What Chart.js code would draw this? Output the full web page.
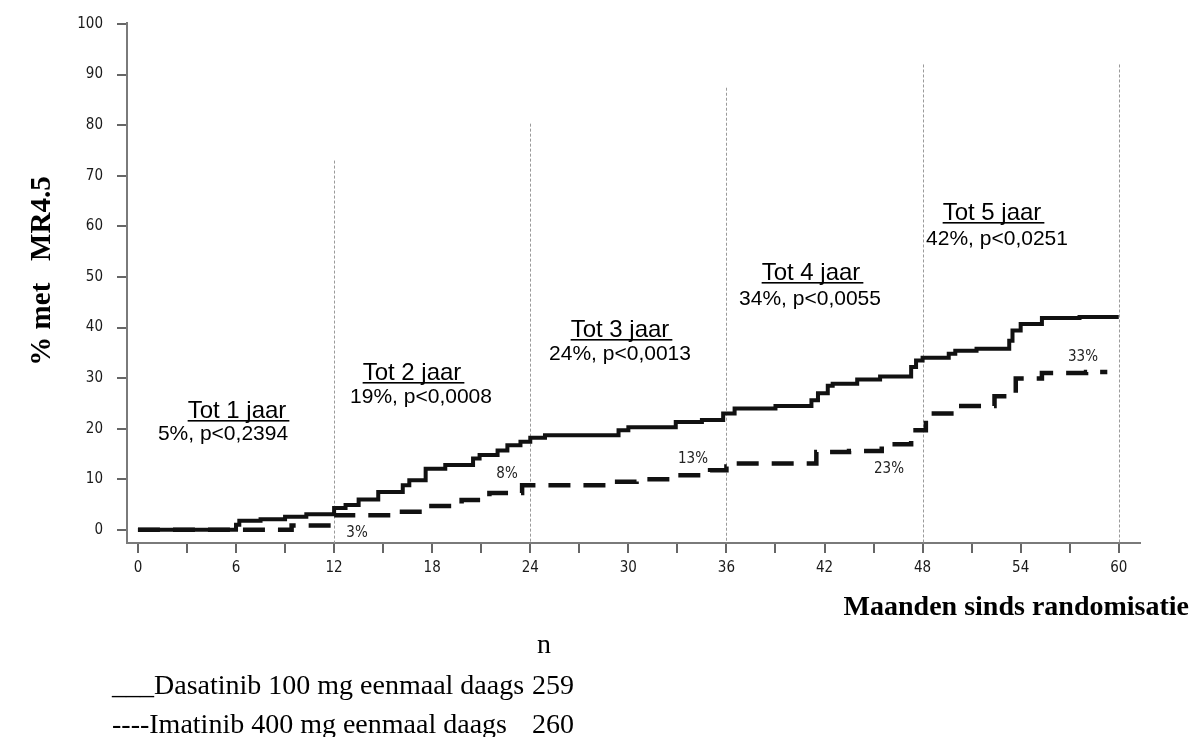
<!DOCTYPE html>
<html>
<head>
<meta charset="utf-8">
<script src="https://cdn.jsdelivr.net/npm/chart.js@4/dist/chart.umd.min.js"></script>
<style>
html,body{margin:0;padding:0;background:#fff;}
#wrap{position:relative;width:1193px;height:737px;overflow:hidden;background:#fff;}
canvas{position:absolute;left:0;top:0;}
</style>
</head>
<body>
<div id="wrap"><canvas id="c" width="1193" height="737"></canvas></div>
<script>
// ---- data ----
const xTicks = [0,3,6,9,12,15,18,21,24,27,30,33,36,39,42,45,48,51,54,57,60];
const yTicks = [0,10,20,30,40,50,60,70,80,90,100];

const dasMonths = [0,6,6.2,7.5,9,10.3,12,12.7,13.5,14.7,16.2,16.6,17.6,18.8,20.5,20.9,22,22.6,23.4,24,24.9,29.4,30,32.9,34.5,35.8,36.5,39,41.2,41.6,42.2,42.5,44,45.4,47.3,47.6,48,49.6,50,51.3,53.3,53.5,54,55.3,57.6,60];
const dasValues = [0,1.0,1.8,2.1,2.6,3.1,4.3,4.9,6.0,7.5,8.8,9.8,12.1,12.8,14.1,14.8,15.7,16.7,17.4,18.2,18.7,19.7,20.3,21.3,21.7,23.0,24.0,24.5,25.6,27.0,28.5,28.9,29.7,30.3,32.2,33.5,34.0,34.8,35.4,35.8,37.4,39.4,40.7,41.9,42.1,42.1];

const imaMonths = [0,9.4,12,15.6,17.5,19.8,21.5,23.5,29,30.5,32.8,35,36,36.5,41.5,43.5,45.5,47.3,48.2,50.2,52.4,53.7,55.3,58,59.3];
const imaValues = [0,0.85,2.9,3.6,4.7,5.9,7.3,8.8,9.5,10.0,10.8,11.8,12.5,13.1,15.4,15.6,16.9,19.7,23.0,24.5,26.4,29.9,31.0,31.2,31.2];

const refMonths = [12,24,36,48,60];
const refTops   = [73,80.3,87.4,92,92];

const periodTitles = ["Tot 1 jaar","Tot 2 jaar","Tot 3 jaar","Tot 4 jaar","Tot 5 jaar"];
const periodStats  = ["5%, p<0,2394","19%, p<0,0008","24%, p<0,0013","34%, p<0,0055","42%, p<0,0251"];
const imaLabels    = ["3%","8%","13%","23%","33%"];

const yTitle = "% met   MR4.5";
const xTitle = "Maanden sinds randomisatie";
const legendN = "n";
const legendRows = ["___Dasatinib 100 mg eenmaal daags","----Imatinib 400 mg eenmaal daags"];
const legendCounts = ["259","260"];

// ---- layout positions (pixels) ----
const titlePos = [[237,418],[412,380],[620,337],[811,280],[992,220]];
const statPos  = [[223,440],[421,403],[620,360],[810,305],[997,245]];
const imaLabPos = [[357,537],[507,478],[693,463],[889,473],[1083,361]];

const SANS = '"Liberation Sans", Arial, sans-serif';
const SERIF = '"Liberation Serif", "Times New Roman", serif';
const NARROW = '"Liberation Sans Narrow", "Arial Narrow", "DejaVu Sans Condensed", sans-serif';

const annot = {
  id:'annot',
  beforeDatasetsDraw(chart){
    const ctx = chart.ctx, xs = chart.scales.x, ys = chart.scales.y;
    ctx.save();
    ctx.strokeStyle = '#9a9a9a';
    ctx.lineWidth = 1;
    ctx.setLineDash([3,2]);
    refMonths.forEach((m,i)=>{
      const px = Math.round(xs.getPixelForValue(m))+0.5;
      ctx.beginPath();
      ctx.moveTo(px, ys.getPixelForValue(refTops[i]));
      ctx.lineTo(px, chart.chartArea.bottom);
      ctx.stroke();
    });
    ctx.restore();
  },
  afterDraw(chart){
    const ctx = chart.ctx;
    ctx.save();
    ctx.fillStyle = '#000';
    ctx.textBaseline = 'alphabetic';
    ctx.textAlign = 'center';
    // period titles (underlined)
    ctx.font = '24px ' + SANS;
    periodTitles.forEach((t,i)=>{
      const [x,y] = titlePos[i];
      ctx.fillText(t, x, y);
      const w = ctx.measureText(t).width;
      ctx.fillRect(x - w/2, y + 2, w + 3, 1.6);
    });
    ctx.font = '21px ' + SANS;
    periodStats.forEach((t,i)=>{
      const [x,y] = statPos[i];
      ctx.fillText(t, x, y);
    });
    // small imatinib labels
    ctx.font = '15px ' + NARROW;
    ctx.fillStyle = '#222';
    imaLabels.forEach((t,i)=>{
      const [x,y] = imaLabPos[i];
      ctx.fillText(t, x, y);
    });
    // axis titles
    ctx.fillStyle = '#000';
    ctx.font = 'bold 28px ' + SERIF;
    ctx.textAlign = 'right';
    ctx.fillText(xTitle, 1189, 615);
    ctx.save();
    ctx.font = 'bold 29px ' + SERIF;
    ctx.translate(50, 271);
    ctx.rotate(-Math.PI/2);
    ctx.textAlign = 'center';
    ctx.fillText(yTitle, 0, 0);
    ctx.restore();
    // legend block
    ctx.font = '28px ' + SERIF;
    ctx.textAlign = 'left';
    ctx.fillText(legendN, 537, 653);
    legendRows.forEach((t,i)=>{
      const y = 694 + i*39;
      ctx.fillText(t, 112, y);
      ctx.fillText(legendCounts[i], 532, y);
    });
    ctx.restore();
  }
};

const tickFont = {family: NARROW, size: 15};

new Chart(document.getElementById('c').getContext('2d'), {
  type: 'line',
  data: {
    datasets: [
      {
        label: 'Dasatinib 100 mg',
        data: dasMonths.map((m,i)=>({x:m, y:dasValues[i]})),
        stepped: 'before',
        borderColor: '#111',
        borderWidth: 4,
        pointRadius: 0,
        fill: false
      },
      {
        label: 'Imatinib 400 mg',
        data: imaMonths.map((m,i)=>({x:m, y:imaValues[i]})),
        stepped: 'before',
        borderColor: '#111',
        borderWidth: 4.5,
        borderDash: [22,13],
        pointRadius: 0,
        fill: false
      }
    ]
  },
  options: {
    responsive: false,
    animation: false,
    devicePixelRatio: 1,
    layout: {padding: {left: 57, right: 53, top: 20, bottom: 154}},
    plugins: {legend: {display: false}, tooltip: {enabled: false}},
    scales: {
      x: {
        type: 'linear', min: -0.67, max: 61.3,
        afterBuildTicks: s => { s.ticks = xTicks.map(v => ({value: v})); },
        afterFit: s => { s.height = 40; },
        ticks: {
          autoSkip: false, maxRotation: 0, padding: 6, color: '#1a1a1a', font: tickFont,
          callback: v => (v % 6 === 0 ? String(v) : '')
        },
        grid: {display: true, drawOnChartArea: false, drawTicks: true, tickLength: 10, color: '#666', lineWidth: 2},
        border: {display: true, color: '#7a7a7a', width: 2}
      },
      y: {
        min: -2.6, max: 100.2,
        afterBuildTicks: s => { s.ticks = yTicks.map(v => ({value: v})); },
        afterFit: s => { s.width = 70; },
        ticks: {autoSkip: false, padding: 14, color: '#1a1a1a', font: tickFont},
        grid: {display: true, drawOnChartArea: false, drawTicks: true, tickLength: 10, color: '#666', lineWidth: 2},
        border: {display: true, color: '#7a7a7a', width: 2}
      }
    }
  },
  plugins: [annot]
});
</script>
</body>
</html>
